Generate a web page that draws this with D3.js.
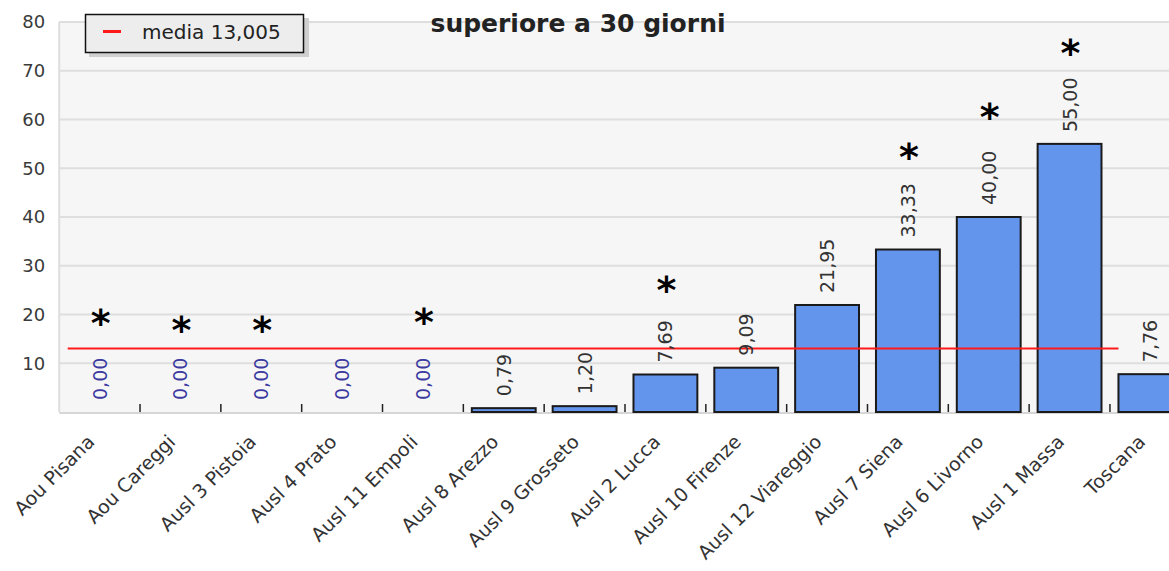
<!DOCTYPE html>
<html><head><meta charset="utf-8">
<script src="https://cdn.jsdelivr.net/npm/d3@7"></script>
<style>
html,body{margin:0;padding:0;background:#fff;}
svg{display:block;font-family:"DejaVu Sans",Verdana,sans-serif;}
</style></head>
<body><svg id="c" width="1169" height="571"></svg>
<script>
const categories = ["Aou Pisana","Aou Careggi","Ausl 3 Pistoia","Ausl 4 Prato","Ausl 11 Empoli","Ausl 8 Arezzo","Ausl 9 Grosseto","Ausl 2 Lucca","Ausl 10 Firenze","Ausl 12 Viareggio","Ausl 7 Siena","Ausl 6 Livorno","Ausl 1 Massa","Toscana"];
const values = [0,0,0,0,0,0.79,1.20,7.69,9.09,21.95,33.33,40.00,55.00,7.76];
const valueLabels = ["0,00","0,00","0,00","0,00","0,00","0,79","1,20","7,69","9,09","21,95","33,33","40,00","55,00","7,76"];
// asterisk annotations: vertical position (data units), null = none
const asteriskLevel = [19.3,17.9,17.9,null,19.5,null,null,26.1,null,null,53.4,61.6,74.7,null];
const yTicks = [10,20,30,40,50,60,70,80];
const mean = 13.005;
const meanLabel = "media 13,005";
const title = "superiore a 30 giorni";

const svg = d3.select("#c");
const pLeft = 59.2, pRight = 1190.8, pTop = 22, pBottom = 412;
const x = d3.scaleBand().domain(categories).range([pLeft, pRight]).padding(0);
const y = d3.scaleLinear().domain([0,80]).range([pBottom, pTop]);
const bw = x.bandwidth();
const barOff = bw*0.105, barW = bw*0.79;

svg.append("rect").attr("x",pLeft).attr("y",pTop).attr("width",pRight-pLeft).attr("height",pBottom-pTop).attr("fill","#f6f6f6");
svg.append("g").selectAll("line").data(yTicks).join("line")
  .attr("x1",pLeft).attr("x2",pRight).attr("y1",d=>y(d)).attr("y2",d=>y(d))
  .attr("stroke","#dedede").attr("stroke-width",2);
svg.append("line").attr("x1",pLeft).attr("x2",pLeft).attr("y1",pTop).attr("y2",pBottom).attr("stroke","#dedede").attr("stroke-width",2);
svg.append("line").attr("x1",pLeft).attr("x2",pRight).attr("y1",pBottom+1).attr("y2",pBottom+1).attr("stroke","#d6d6d6").attr("stroke-width",2);

const ya = d3.axisLeft(y).tickValues(yTicks).tickSize(0).tickPadding(14);
const gy = svg.append("g").attr("transform",`translate(${pLeft},0)`).call(ya);
gy.select(".domain").remove();
gy.selectAll("text").attr("font-size",18).attr("fill","#3a3a3a").attr("font-family","DejaVu Sans, sans-serif");

svg.append("g").selectAll("line").data(categories.slice(1)).join("line")
  .attr("x1",d=>x(d)).attr("x2",d=>x(d)).attr("y1",pBottom-8).attr("y2",pBottom)
  .attr("stroke","#222").attr("stroke-width",1.5);

svg.append("g").selectAll("rect").data(categories.filter((c,i)=>values[i]>0)).join("rect")
  .attr("x",d=>x(d)+barOff).attr("width",barW)
  .attr("y",d=>y(values[categories.indexOf(d)]))
  .attr("height",d=>pBottom-y(values[categories.indexOf(d)]))
  .attr("fill","#6495ed").attr("stroke","#1a1a1a").attr("stroke-width",2);

svg.append("line").attr("x1",x(categories[0])+barOff).attr("x2",x(categories[categories.length-1])+barOff)
  .attr("y1",y(mean)).attr("y2",y(mean)).attr("stroke","#ff1a1a").attr("stroke-width",2);

svg.append("g").selectAll("text").data(categories).join("text")
  .attr("transform",(d,i)=>`translate(${x(d)+bw/2+7},${y(values[i])-12}) rotate(-90)`)
  .attr("text-anchor","start").attr("font-size",19)
  .attr("fill",(d,i)=>values[i]===0?"#3a3aa0":"#333")
  .text((d,i)=>valueLabels[i]);

svg.append("g").selectAll("text").data(categories.filter((c,i)=>asteriskLevel[i]!==null)).join("text")
  .attr("x",d=>x(d)+bw/2+1)
  .attr("y",d=>y(asteriskLevel[categories.indexOf(d)])+18)
  .attr("text-anchor","middle").attr("font-size",38).attr("font-weight","bold").attr("fill","#000")
  .text("*");

svg.append("g").selectAll("text").data(categories).join("text")
  .attr("transform",d=>`translate(${x(d)+bw/2-4},${pBottom+31}) rotate(-45)`)
  .attr("text-anchor","end").attr("font-size",19).attr("fill","#333")
  .text(d=>d);

svg.append("text").attr("x",578).attr("y",32).attr("text-anchor","middle")
  .attr("font-size",25).attr("font-weight","bold").attr("fill","#222").text(title);

const lg = svg.append("g");
lg.append("rect").attr("x",89).attr("y",18).attr("width",220).attr("height",39).attr("fill","#cfcfcf");
lg.append("rect").attr("x",85.5).attr("y",14.5).attr("width",218).attr("height",38).attr("fill","#ededed").attr("stroke","#111").attr("stroke-width",1.5);
lg.append("line").attr("x1",103).attr("x2",121).attr("y1",31.5).attr("y2",31.5).attr("stroke","#ff1a1a").attr("stroke-width",3);
lg.append("text").attr("x",142).attr("y",39).attr("font-size",20).attr("fill","#222").text(meanLabel);
</script></body></html>
